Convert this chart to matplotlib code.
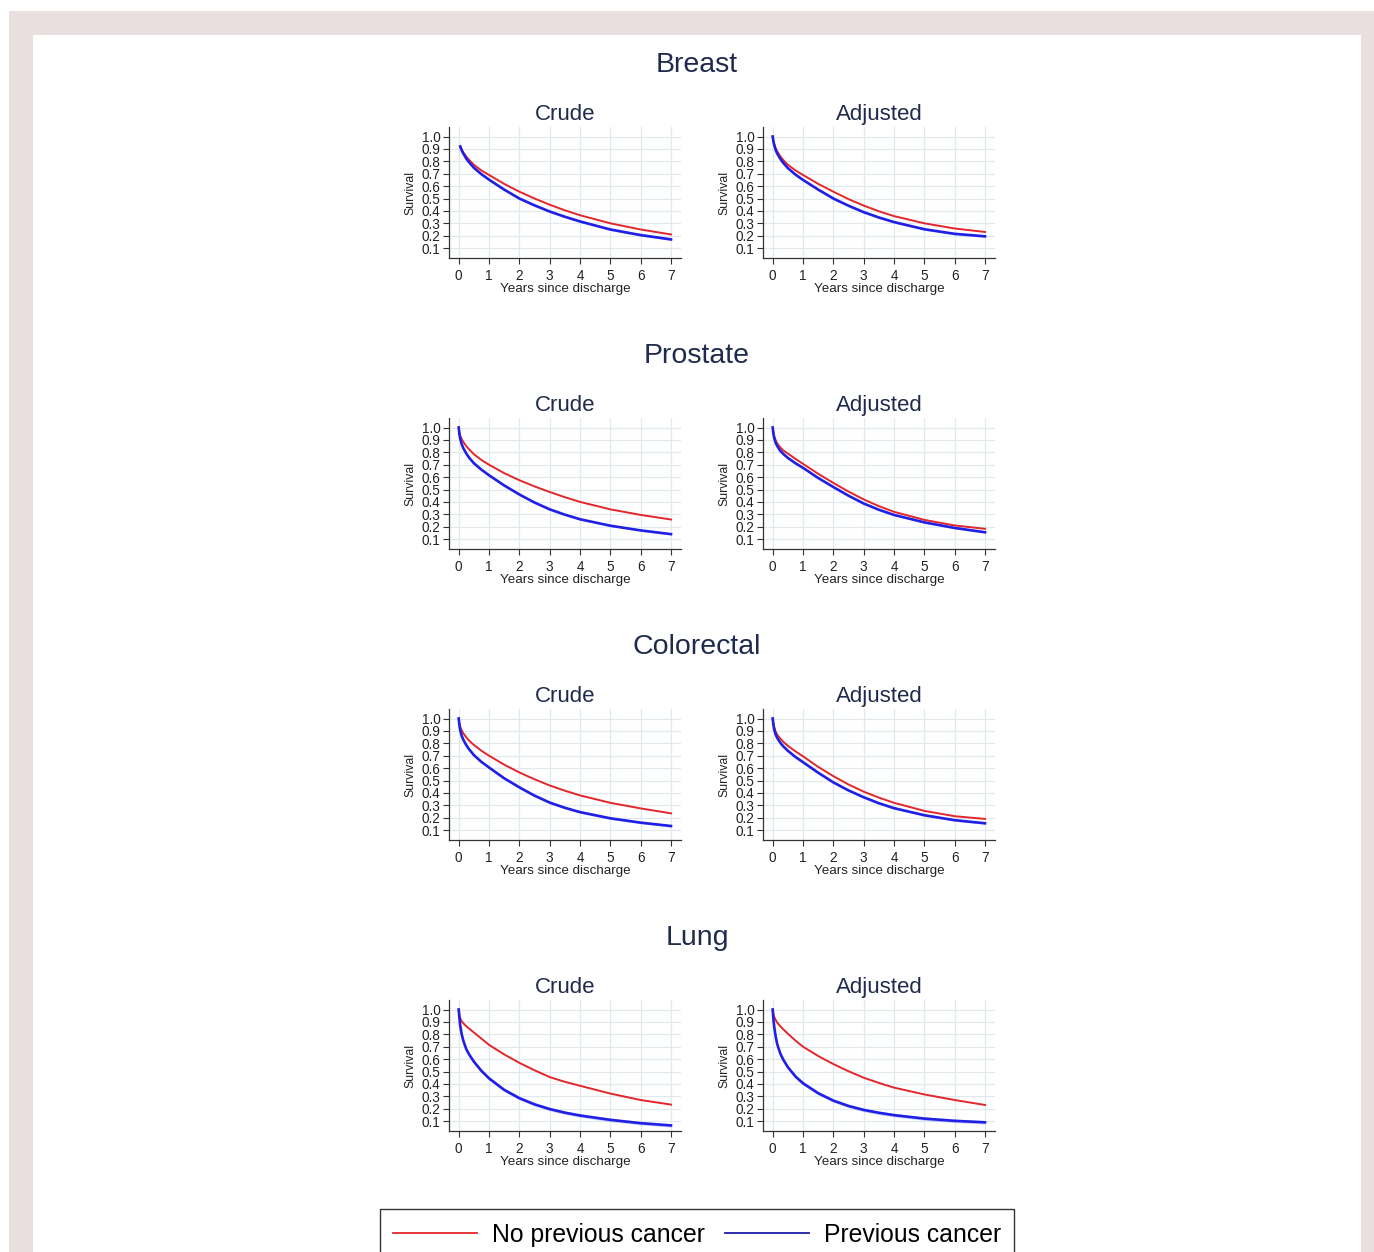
import numpy as np
import matplotlib.pyplot as plt
from matplotlib.patches import Rectangle
from matplotlib.lines import Line2D

plt.rcParams['font.family'] = ['Liberation Sans', 'DejaVu Sans']

W, H = 1374, 1252

# time since discharge (years)
years = [0, 0.02, 0.05, 0.1, 0.15, 0.25, 0.35, 0.5, 0.75, 1, 1.5, 2, 2.5, 3, 3.5, 4, 5, 6, 7]
cancers = ['Breast', 'Prostate', 'Colorectal', 'Lung']
panels = ['Crude', 'Adjusted']
yticks = [0.1, 0.2, 0.3, 0.4, 0.5, 0.6, 0.7, 0.8, 0.9, 1.0]
xticks = [0, 1, 2, 3, 4, 5, 6, 7]

# survival, no previous cancer (red) / previous cancer (blue)
breast_crude_none = [np.nan, np.nan, 0.92, 0.892, 0.872, 0.838, 0.81, 0.772, 0.726, 0.69, 0.618, 0.555, 0.50, 0.45, 0.405, 0.365, 0.30, 0.25, 0.21]
breast_crude_prev = [np.nan, np.nan, 0.92, 0.888, 0.864, 0.822, 0.79, 0.748, 0.696, 0.652, 0.572, 0.50, 0.445, 0.395, 0.353, 0.315, 0.25, 0.205, 0.17]
breast_adj_none = [1.0, 0.97, 0.94, 0.905, 0.88, 0.84, 0.81, 0.772, 0.727, 0.69, 0.618, 0.555, 0.495, 0.443, 0.397, 0.358, 0.30, 0.258, 0.23]
breast_adj_prev = [1.0, 0.965, 0.93, 0.89, 0.862, 0.82, 0.787, 0.745, 0.693, 0.65, 0.572, 0.50, 0.442, 0.39, 0.347, 0.31, 0.252, 0.215, 0.195]

prostate_crude_none = [1.0, 0.965, 0.935, 0.905, 0.885, 0.85, 0.822, 0.785, 0.738, 0.70, 0.632, 0.575, 0.525, 0.48, 0.438, 0.40, 0.34, 0.295, 0.258]
prostate_crude_prev = [1.0, 0.95, 0.91, 0.865, 0.835, 0.79, 0.755, 0.712, 0.66, 0.615, 0.533, 0.46, 0.395, 0.34, 0.297, 0.26, 0.208, 0.17, 0.14]
prostate_adj_none = [1.0, 0.965, 0.93, 0.895, 0.872, 0.84, 0.815, 0.79, 0.747, 0.707, 0.627, 0.553, 0.483, 0.42, 0.366, 0.32, 0.255, 0.21, 0.183]
prostate_adj_prev = [1.0, 0.955, 0.915, 0.875, 0.85, 0.812, 0.787, 0.755, 0.712, 0.675, 0.593, 0.52, 0.45, 0.387, 0.337, 0.295, 0.235, 0.19, 0.155]

colorectal_crude_none = [1.0, 0.965, 0.935, 0.905, 0.882, 0.848, 0.82, 0.787, 0.74, 0.70, 0.628, 0.565, 0.51, 0.46, 0.418, 0.38, 0.32, 0.275, 0.235]
colorectal_crude_prev = [1.0, 0.95, 0.905, 0.86, 0.83, 0.785, 0.75, 0.705, 0.65, 0.605, 0.518, 0.445, 0.378, 0.322, 0.28, 0.245, 0.195, 0.16, 0.133]
colorectal_adj_none = [1.0, 0.965, 0.93, 0.893, 0.87, 0.838, 0.812, 0.78, 0.735, 0.695, 0.61, 0.535, 0.468, 0.41, 0.362, 0.32, 0.255, 0.212, 0.19]
colorectal_adj_prev = [1.0, 0.955, 0.91, 0.87, 0.843, 0.805, 0.775, 0.74, 0.69, 0.648, 0.563, 0.485, 0.42, 0.365, 0.317, 0.277, 0.22, 0.18, 0.155]

lung_crude_none = [1.0, 0.96, 0.93, 0.905, 0.89, 0.865, 0.845, 0.815, 0.765, 0.715, 0.638, 0.57, 0.51, 0.455, 0.417, 0.385, 0.322, 0.27, 0.233]
lung_crude_prev = [1.0, 0.94, 0.87, 0.80, 0.75, 0.68, 0.635, 0.58, 0.505, 0.445, 0.352, 0.285, 0.235, 0.197, 0.168, 0.145, 0.11, 0.083, 0.065]
lung_adj_none = [1.0, 0.965, 0.94, 0.915, 0.895, 0.865, 0.84, 0.805, 0.75, 0.70, 0.625, 0.56, 0.502, 0.45, 0.408, 0.37, 0.315, 0.27, 0.23]
lung_adj_prev = [1.0, 0.93, 0.86, 0.78, 0.72, 0.645, 0.595, 0.535, 0.46, 0.405, 0.325, 0.265, 0.222, 0.19, 0.167, 0.148, 0.12, 0.102, 0.09]

# half width of the confidence band round the blue curve
ci_half = [0.009, 0.007, 0.009, 0.014]

curves = {
    ('Breast', 'Crude'): (breast_crude_none, breast_crude_prev),
    ('Breast', 'Adjusted'): (breast_adj_none, breast_adj_prev),
    ('Prostate', 'Crude'): (prostate_crude_none, prostate_crude_prev),
    ('Prostate', 'Adjusted'): (prostate_adj_none, prostate_adj_prev),
    ('Colorectal', 'Crude'): (colorectal_crude_none, colorectal_crude_prev),
    ('Colorectal', 'Adjusted'): (colorectal_adj_none, colorectal_adj_prev),
    ('Lung', 'Crude'): (lung_crude_none, lung_crude_prev),
    ('Lung', 'Adjusted'): (lung_adj_none, lung_adj_prev),
}

RED = '#e3262b'
BLUE = '#1f1fe6'
NAVY = '#1f2b4d'
GRID = '#e1e8ee'
PINK = '#e9dfdf'

fig = plt.figure(figsize=(W / 100, H / 100), dpi=100)
fig.patch.set_facecolor('white')

# pink frame round the page
fig.patches.append(Rectangle((9 / W, 0), 1, 1 - 11 / H, transform=fig.transFigure,
                             facecolor=PINK, edgecolor='none', zorder=-10))
fig.patches.append(Rectangle((33 / W, 0), (1361 - 33) / W, 1 - 35 / H, transform=fig.transFigure,
                             facecolor='white', edgecolor='none', zorder=-9))

t = np.array(years)
ax_left = [449, 763]
ax_w, ax_h = 232, 131
row_gap = 291

for i, cancer in enumerate(cancers):
    top = 127 + row_gap * i
    fig.text(697 / W, 1 - (65 + row_gap * i) / H, cancer, ha='center', va='center',
             fontsize=20.5, color=NAVY)
    for j, panel in enumerate(panels):
        ax = fig.add_axes([ax_left[j] / W, 1 - (top + ax_h) / H, ax_w / W, ax_h / H])
        none, prev = curves[(cancer, panel)]
        none = np.array(none)
        prev = np.array(prev)
        ax.fill_between(t, prev - ci_half[i], prev + ci_half[i], color=BLUE,
                        alpha=0.22, linewidth=0, zorder=2)
        ax.plot(t, none, color=RED, lw=1.4, zorder=3)
        ax.plot(t, prev, color=BLUE, lw=1.9, zorder=3)

        ax.set_xlim(-0.32, 7.33)
        ax.set_ylim(0.02, 1.077)
        ax.set_xticks(xticks)
        ax.set_yticks(yticks)
        ax.set_yticklabels(['%.1f' % v for v in yticks])
        ax.grid(True, color=GRID, lw=0.9)
        ax.set_axisbelow(True)
        for s in ['top', 'right']:
            ax.spines[s].set_visible(False)
        for s in ['left', 'bottom']:
            ax.spines[s].set_color('#333333')
            ax.spines[s].set_linewidth(0.9)
        ax.tick_params(axis='both', direction='out', length=4, width=0.8,
                       color='#333333', labelsize=9.8, labelcolor='#222222', pad=2)
        ax.tick_params(axis='x', pad=4)
        ax.set_xlabel('Years since discharge', fontsize=9.6, color='#222222', labelpad=0)
        ax.set_ylabel('Survival', fontsize=8.8, color='#222222', labelpad=4)
        ax.set_title(panel, fontsize=16, color=NAVY, pad=5)

handles = [Line2D([], [], color=RED, lw=1.3), Line2D([], [], color='#1c1ca8', lw=1.3)]
leg = fig.legend(handles, ['No previous cancer', 'Previous cancer'], ncol=2,
                 loc='upper center', bbox_to_anchor=(697 / W, 1 - 1209 / H),
                 fontsize=17.8, frameon=True, fancybox=False, edgecolor='black',
                 handlelength=3.4, handletextpad=0.6, columnspacing=0.8,
                 borderpad=0.55, borderaxespad=0)
leg.get_frame().set_linewidth(1.0)

fig.savefig('out.png', dpi=100, facecolor=fig.get_facecolor())
